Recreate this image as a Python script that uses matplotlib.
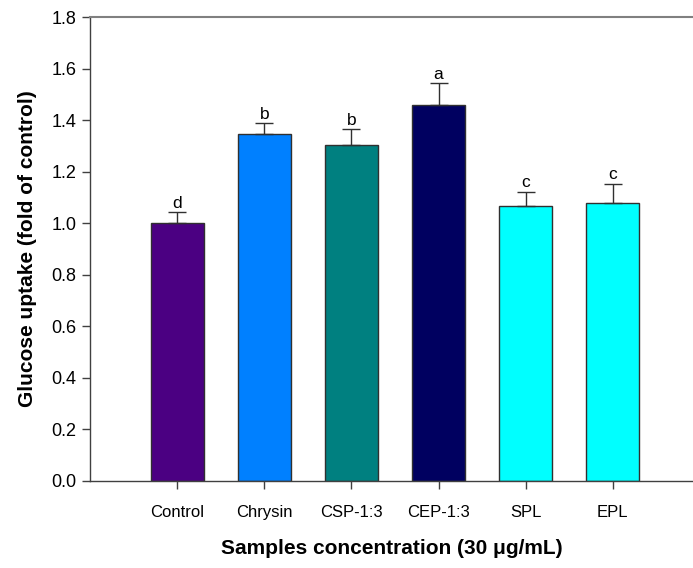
import numpy as np
import matplotlib.pyplot as plt

# Glucose uptake by sample, mean and upper error
samples = ['Control', 'Chrysin', 'CSP-1:3', 'CEP-1:3', 'SPL', 'EPL']
uptake = [1.00, 1.345, 1.305, 1.46, 1.065, 1.077]
sd = [0.042, 0.044, 0.060, 0.083, 0.058, 0.077]
letters = ['d', 'b', 'b', 'a', 'c', 'c']
colors = ['#4b0082', '#0080ff', '#008080', '#000060', '#00ffff', '#00ffff']

plt.rcParams['font.family'] = ['Liberation Sans', 'DejaVu Sans']

fig = plt.figure(figsize=(6.93, 5.68), dpi=100)
ax = fig.add_axes([0.1299, 0.1532, 0.8701, 0.8168])

x = np.arange(len(samples))
ax.bar(x, uptake, width=0.61, color=colors, edgecolor='#303030', linewidth=1.0, zorder=2)
ax.errorbar(x, uptake, yerr=[np.zeros(len(sd)), sd], fmt='none', ecolor='#303030',
            elinewidth=1.0, capsize=6.5, capthick=1.0, zorder=3)

# significance letters above the caps
for xi, v, e, t in zip(x, uptake, sd, letters):
    ax.text(xi, v + e + 0.016, t, ha='center', va='baseline', fontsize=12.5)

ax.set_xlim(-1, 5.92)
ax.set_ylim(0, 1.8)
ax.set_yticks(np.arange(0, 1.81, 0.2))
ax.set_yticklabels([f'{v:.1f}' for v in np.arange(0, 1.81, 0.2)], fontsize=13)
ax.set_xticks(x)
ax.set_xticklabels(samples, fontsize=12)
ax.tick_params(axis='both', direction='out', length=6, width=1.0, color='#404040')
ax.tick_params(axis='x', pad=11)
ax.tick_params(axis='y', pad=4)

ax.spines['right'].set_visible(False)
ax.spines['top'].set_color('#808080')
ax.spines['top'].set_linewidth(1.5)
for s in ['left', 'bottom']:
    ax.spines[s].set_color('#404040')
    ax.spines[s].set_linewidth(1.0)

ax.set_xlabel('Samples concentration (30 \u03bcg/mL)', fontsize=15, fontweight='bold', labelpad=14)
ax.set_ylabel('Glucose uptake (fold of control)', fontsize=15, fontweight='bold', labelpad=10)

fig.savefig('out.png', dpi=100)
